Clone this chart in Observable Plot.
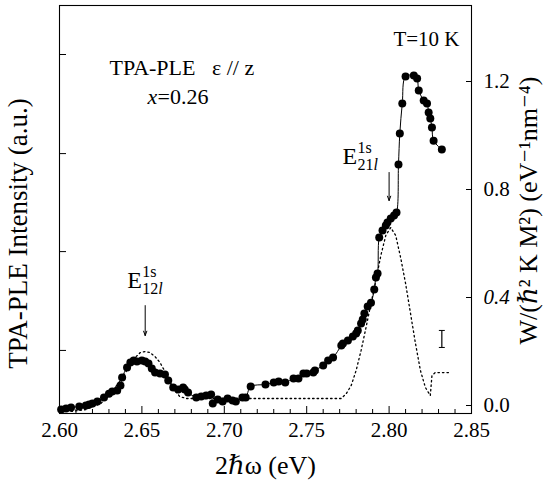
<!DOCTYPE html>
<html><head><meta charset="utf-8">
<script src="https://cdn.jsdelivr.net/npm/d3@7"></script>
<script src="https://cdn.jsdelivr.net/npm/@observablehq/plot@0.6"></script>
<style>
body{margin:0;background:#fff;}
svg{display:block}
#chart svg, #chart svg text, #chart svg g { font-family: "Liberation Serif", "DejaVu Serif", serif !important; }
</style>
</head><body><div id="chart"></div>
<script>
// measured TPA-PLE points (photon energy 2ħω in eV, intensity drawn on the W scale)
const energy = [2.601,2.604,2.607,2.612,2.616,2.618,2.620,2.623,2.627,2.630,2.632,2.635,2.637,2.638,2.641,2.643,2.645,2.647,2.650,2.652,2.654,2.656,2.658,2.661,2.664,2.666,2.669,2.672,2.675,2.676,2.678,2.683,2.686,2.689,2.692,2.693,2.696,2.699,2.702,2.705,2.707,2.711,2.713,2.716,2.725,2.730,2.733,2.737,2.742,2.745,2.748,2.750,2.754,2.755,2.760,2.763,2.766,2.771,2.772,2.775,2.778,2.780,2.781,2.783,2.784,2.785,2.787,2.789,2.791,2.792,2.793,2.794,2.796,2.798,2.799,2.801,2.803,2.8045,2.8057,2.8065,2.808,2.810,2.815,2.817,2.818,2.821,2.823,2.824,2.825,2.826,2.827,2.832];
const intensity = [-0.015,-0.011,-0.007,-0.004,0.000,0.004,0.007,0.015,0.030,0.044,0.052,0.056,0.074,0.104,0.141,0.159,0.167,0.163,0.167,0.163,0.156,0.137,0.122,0.119,0.115,0.093,0.067,0.059,0.067,0.059,0.048,0.030,0.033,0.037,0.041,0.007,0.022,0.015,0.026,0.019,0.015,0.030,0.030,0.070,0.078,0.085,0.089,0.085,0.100,0.100,0.119,0.119,0.122,0.130,0.148,0.167,0.178,0.222,0.230,0.241,0.256,0.267,0.278,0.304,0.319,0.341,0.367,0.381,0.430,0.474,0.489,0.622,0.648,0.667,0.678,0.693,0.704,0.715,0.893,1.007,1.119,1.219,1.222,1.211,1.167,1.130,1.119,1.085,1.063,1.030,0.981,0.948];
// calculated transition probability W (dotted)
const modelEnergy = [2.607,2.616,2.625,2.631,2.637,2.642,2.646,2.649,2.652,2.655,2.658,2.661,2.664,2.667,2.670,2.673,2.677,2.771,2.774,2.777,2.780,2.783,2.786,2.789,2.792,2.795,2.798,2.801,2.804,2.807,2.810,2.813,2.816,2.819,2.822,2.825,2.826,2.828,2.837];
const modelW = [-0.022,-0.015,0.007,0.044,0.093,0.141,0.178,0.196,0.200,0.196,0.181,0.159,0.126,0.089,0.056,0.033,0.026,0.026,0.044,0.074,0.130,0.204,0.289,0.378,0.463,0.556,0.630,0.659,0.630,0.548,0.452,0.341,0.230,0.130,0.067,0.037,0.111,0.122,0.122];
// peak markers
const peakEnergy = [2.652, 2.800];
const peakArrowTop = [0.370, 0.863];
const peakArrowTip = [0.259, 0.759];
// error bar
const errEnergy = [2.832];
const errLow = [0.215];
const errHigh = [0.278];
// ticks
const xMajorTicks = [2.60, 2.65, 2.70, 2.75, 2.80, 2.85];
const xMinorTicks = [2.61,2.62,2.63,2.64,2.66,2.67,2.68,2.69,2.71,2.72,2.73,2.74,2.76,2.77,2.78,2.79,2.81,2.82,2.83,2.84];
const rightTicks = [0.0, 0.4, 0.8, 1.2];
const leftTicks = [0.204, 0.570, 0.933, 1.300];

const FONT = "Liberation Serif, DejaVu Serif, serif";
const points = energy.map((e, i) => ({e, v: intensity[i]}));
const model = modelEnergy.map((e, i) => ({e, v: modelW[i]}));
const arrows = peakEnergy.map((e, i) => ({e, top: peakArrowTop[i], tip: peakArrowTip[i]}));
const errs = errEnergy.map((e, i) => ({e, lo: errLow[i], hi: errHigh[i]}));

function t(str, o) {
  return Plot.text([str], {text: d => d, fontFamily: FONT, fill: "black", ...o});
}
function peakLabel(e, yv, dxE, sub) {
  return [
    t("E", {x: e, y: yv, dx: dxE, textAnchor: "start", lineAnchor: "bottom", fontSize: 24}),
    t("1s", {x: e, y: yv, dx: dxE + 15, dy: -11, textAnchor: "start", lineAnchor: "bottom", fontSize: 16}),
    t(sub, {x: e, y: yv, dx: dxE + 15, dy: 6, textAnchor: "start", lineAnchor: "bottom", fontSize: 16}),
    t("l", {x: e, y: yv, dx: dxE + 31, dy: 6, textAnchor: "start", lineAnchor: "bottom", fontSize: 16, fontStyle: "italic"})
  ];
}

const chart = Plot.plot({
  width: 546, height: 497,
  marginLeft: 59, marginRight: 75, marginTop: 5, marginBottom: 84,
  style: {fontFamily: FONT, background: "#fff", color: "#000", overflow: "visible"},
  x: {domain: [2.60, 2.85]},
  y: {domain: [-0.0296, 1.4815]},
  marks: [
    Plot.frame({stroke: "black", strokeWidth: 1.1}),
    Plot.axisX(xMinorTicks, {tickSize: -4, tickFormat: () => "", label: null}),
    Plot.axisX(xMajorTicks, {tickSize: -7, tickFormat: () => "", label: null}),
    Plot.axisX(xMajorTicks, {tickSize: 0, tickPadding: 9, tickFormat: d3.format(".2f"), fontSize: 21, label: null}),
    Plot.axisY(leftTicks, {anchor: "left", tickSize: -7, tickFormat: () => "", label: null}),
    Plot.axisY(rightTicks, {anchor: "right", tickSize: -6, tickFormat: () => "", label: null}),
    Plot.axisY(rightTicks, {anchor: "right", tickSize: 0, tickPadding: 12, tickFormat: d3.format(".1f"), fontSize: 21, label: null}),
    Plot.line(model, {x: "e", y: "v", stroke: "black", strokeWidth: 1.3, strokeDasharray: "1.5 3"}),
    Plot.line(points, {x: "e", y: "v", curve: "catmull-rom", stroke: "black", strokeWidth: 1}),
    Plot.dot(points, {x: "e", y: "v", r: 4, fill: "black"}),
    Plot.arrow(arrows, {x1: "e", x2: "e", y1: "top", y2: "tip", stroke: "black", strokeWidth: 1, headLength: 7, headAngle: 40}),
    Plot.link(errs, {x1: "e", x2: "e", y1: "lo", y2: "hi", stroke: "black", strokeWidth: 1.2}),
    Plot.link(errs, {x1: d => d.e - 0.0018, x2: d => d.e + 0.0018, y1: "lo", y2: "lo", stroke: "black", strokeWidth: 1}),
    Plot.link(errs, {x1: d => d.e - 0.0018, x2: d => d.e + 0.0018, y1: "hi", y2: "hi", stroke: "black", strokeWidth: 1}),
    ...peakLabel(peakEnergy[0], 0.437, -18, "12"),
    ...peakLabel(peakEnergy[1], 0.896, -46.6, "21"),
    t("TPA-PLE\u2002 ε // z", {frameAnchor: "top-left", dx: 50, dy: 69, textAnchor: "start", lineAnchor: "bottom", fontSize: 22}),
    t("x", {frameAnchor: "top-left", dx: 88, dy: 98, textAnchor: "start", lineAnchor: "bottom", fontSize: 22, fontStyle: "italic"}),
    t("=0.26", {frameAnchor: "top-left", dx: 98, dy: 98, textAnchor: "start", lineAnchor: "bottom", fontSize: 22}),
    t("T=10 K", {frameAnchor: "top-right", dx: -12, dy: 40, textAnchor: "end", lineAnchor: "bottom", fontSize: 21}),
    t("2ℏω (eV)", {frameAnchor: "bottom", dy: 60, lineAnchor: "bottom", fontSize: 26}),
    t("TPA-PLE Intensity (a.u.)", {frameAnchor: "left", rotate: -90, dx: -41, dy: 24, textAnchor: "middle", fontSize: 27}),
    t("W/(ℏ² K M²) (eV⁻¹nm⁻⁴)", {frameAnchor: "right", rotate: -90, dx: 57, dy: 1, textAnchor: "middle", fontSize: 26})
  ]
});
d3.select(chart).selectAll("text").style("font-family", FONT);
d3.select(chart).selectAll("text").filter(function() { return this.textContent === "0.4"; }).attr("font-style", "italic");
document.getElementById("chart").appendChild(chart);
</script>
</body></html>
